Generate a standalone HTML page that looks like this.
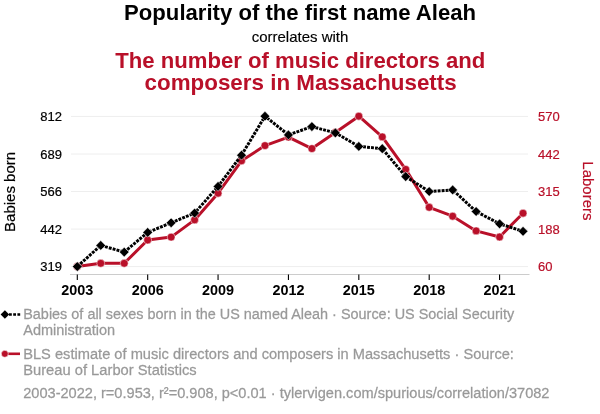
<!DOCTYPE html>
<html><head><meta charset="utf-8"><style>
html,body{margin:0;padding:0;background:#fff;width:600px;height:414px;overflow:hidden}
svg{display:block;will-change:transform;font-family:"Liberation Sans",sans-serif}
</style></head><body>
<svg width="600" height="414" viewBox="0 0 600 414">
<rect width="600" height="414" fill="#fff"/>
<text x="300.1" y="20" text-anchor="middle" font-size="22.13" font-weight="bold" fill="#000">Popularity of the first name Aleah</text>
<text x="300" y="41.9" text-anchor="middle" font-size="15" fill="#000" stroke="#000" stroke-width="0.15">correlates with</text>
<text x="300.3" y="68" text-anchor="middle" font-size="22.13" font-weight="bold" fill="#b91029">The number of music directors and</text>
<text x="300.65" y="89.8" text-anchor="middle" font-size="22.38" font-weight="bold" fill="#b91029">composers in Massachusetts</text>
<line x1="71" x2="528" y1="116.45" y2="116.45" stroke="#eeeeee" stroke-width="1"/>
<line x1="71" x2="528" y1="154.0" y2="154.0" stroke="#eeeeee" stroke-width="1"/>
<line x1="71" x2="528" y1="191.55" y2="191.55" stroke="#eeeeee" stroke-width="1"/>
<line x1="71" x2="528" y1="229.1" y2="229.1" stroke="#eeeeee" stroke-width="1"/>
<line x1="71" x2="528" y1="266.6" y2="266.6" stroke="#eeeeee" stroke-width="1"/>
<line x1="70" x2="529.5" y1="274.5" y2="274.5" stroke="#cccccc" stroke-width="1"/>
<line x1="77.30" x2="77.30" y1="274.5" y2="280" stroke="#000" stroke-width="1.1"/>
<text x="77.30" y="294.75" text-anchor="middle" font-size="14.4" font-weight="bold" fill="#000">2003</text>
<line x1="147.68" x2="147.68" y1="274.5" y2="280" stroke="#000" stroke-width="1.1"/>
<text x="147.68" y="294.75" text-anchor="middle" font-size="14.4" font-weight="bold" fill="#000">2006</text>
<line x1="218.06" x2="218.06" y1="274.5" y2="280" stroke="#000" stroke-width="1.1"/>
<text x="218.06" y="294.75" text-anchor="middle" font-size="14.4" font-weight="bold" fill="#000">2009</text>
<line x1="288.44" x2="288.44" y1="274.5" y2="280" stroke="#000" stroke-width="1.1"/>
<text x="288.44" y="294.75" text-anchor="middle" font-size="14.4" font-weight="bold" fill="#000">2012</text>
<line x1="358.82" x2="358.82" y1="274.5" y2="280" stroke="#000" stroke-width="1.1"/>
<text x="358.82" y="294.75" text-anchor="middle" font-size="14.4" font-weight="bold" fill="#000">2015</text>
<line x1="429.20" x2="429.20" y1="274.5" y2="280" stroke="#000" stroke-width="1.1"/>
<text x="429.20" y="294.75" text-anchor="middle" font-size="14.4" font-weight="bold" fill="#000">2018</text>
<line x1="499.58" x2="499.58" y1="274.5" y2="280" stroke="#000" stroke-width="1.1"/>
<text x="499.58" y="294.75" text-anchor="middle" font-size="14.4" font-weight="bold" fill="#000">2021</text>
<text x="62" y="121.15" text-anchor="end" font-size="13" fill="#000" stroke="#000" stroke-width="0.2">812</text>
<text x="538" y="121.15" text-anchor="start" font-size="13" fill="#b91029" stroke="#b91029" stroke-width="0.2">570</text>
<text x="62" y="158.70" text-anchor="end" font-size="13" fill="#000" stroke="#000" stroke-width="0.2">689</text>
<text x="538" y="158.70" text-anchor="start" font-size="13" fill="#b91029" stroke="#b91029" stroke-width="0.2">442</text>
<text x="62" y="196.25" text-anchor="end" font-size="13" fill="#000" stroke="#000" stroke-width="0.2">566</text>
<text x="538" y="196.25" text-anchor="start" font-size="13" fill="#b91029" stroke="#b91029" stroke-width="0.2">315</text>
<text x="62" y="233.80" text-anchor="end" font-size="13" fill="#000" stroke="#000" stroke-width="0.2">442</text>
<text x="538" y="233.80" text-anchor="start" font-size="13" fill="#b91029" stroke="#b91029" stroke-width="0.2">188</text>
<text x="62" y="271.30" text-anchor="end" font-size="13" fill="#000" stroke="#000" stroke-width="0.2">319</text>
<text x="538" y="271.30" text-anchor="start" font-size="13" fill="#b91029" stroke="#b91029" stroke-width="0.2">60</text>
<text transform="translate(15.2,191.9) rotate(-90)" text-anchor="middle" font-size="15" fill="#000" stroke="#000" stroke-width="0.2">Babies born</text>
<text transform="translate(583.3,190.9) rotate(90)" text-anchor="middle" font-size="15" fill="#b91029" stroke="#b91029" stroke-width="0.2">Laborers</text>
<polyline points="77.30,266.50 100.76,263.30 124.22,263.30 147.68,240.00 171.14,237.10 194.60,219.90 218.06,193.20 241.52,160.80 264.98,145.60 288.44,137.10 311.90,148.60 335.36,132.50 358.82,116.20 382.28,136.90 405.74,169.40 429.20,207.30 452.66,216.20 476.12,230.90 499.58,237.00 523.04,213.20" fill="none" stroke="#b91029" stroke-width="3" stroke-linejoin="round"/>
<circle cx="77.30" cy="266.50" r="3.95" fill="#b91029" stroke="#fff" stroke-width="0.5"/>
<circle cx="100.76" cy="263.30" r="3.95" fill="#b91029" stroke="#fff" stroke-width="0.5"/>
<circle cx="124.22" cy="263.30" r="3.95" fill="#b91029" stroke="#fff" stroke-width="0.5"/>
<circle cx="147.68" cy="240.00" r="3.95" fill="#b91029" stroke="#fff" stroke-width="0.5"/>
<circle cx="171.14" cy="237.10" r="3.95" fill="#b91029" stroke="#fff" stroke-width="0.5"/>
<circle cx="194.60" cy="219.90" r="3.95" fill="#b91029" stroke="#fff" stroke-width="0.5"/>
<circle cx="218.06" cy="193.20" r="3.95" fill="#b91029" stroke="#fff" stroke-width="0.5"/>
<circle cx="241.52" cy="160.80" r="3.95" fill="#b91029" stroke="#fff" stroke-width="0.5"/>
<circle cx="264.98" cy="145.60" r="3.95" fill="#b91029" stroke="#fff" stroke-width="0.5"/>
<circle cx="288.44" cy="137.10" r="3.95" fill="#b91029" stroke="#fff" stroke-width="0.5"/>
<circle cx="311.90" cy="148.60" r="3.95" fill="#b91029" stroke="#fff" stroke-width="0.5"/>
<circle cx="335.36" cy="132.50" r="3.95" fill="#b91029" stroke="#fff" stroke-width="0.5"/>
<circle cx="358.82" cy="116.20" r="3.95" fill="#b91029" stroke="#fff" stroke-width="0.5"/>
<circle cx="382.28" cy="136.90" r="3.95" fill="#b91029" stroke="#fff" stroke-width="0.5"/>
<circle cx="405.74" cy="169.40" r="3.95" fill="#b91029" stroke="#fff" stroke-width="0.5"/>
<circle cx="429.20" cy="207.30" r="3.95" fill="#b91029" stroke="#fff" stroke-width="0.5"/>
<circle cx="452.66" cy="216.20" r="3.95" fill="#b91029" stroke="#fff" stroke-width="0.5"/>
<circle cx="476.12" cy="230.90" r="3.95" fill="#b91029" stroke="#fff" stroke-width="0.5"/>
<circle cx="499.58" cy="237.00" r="3.95" fill="#b91029" stroke="#fff" stroke-width="0.5"/>
<circle cx="523.04" cy="213.20" r="3.95" fill="#b91029" stroke="#fff" stroke-width="0.5"/>
<polyline points="77.30,266.60 100.76,245.40 124.22,252.10 147.68,232.40 171.14,222.80 194.60,213.10 218.06,186.40 241.52,155.20 264.98,116.20 288.44,134.90 311.90,126.60 335.36,132.90 358.82,146.40 382.28,148.70 405.74,176.60 429.20,191.50 452.66,189.90 476.12,211.50 499.58,223.80 523.04,231.30" fill="none" stroke="#000" stroke-width="3" stroke-dasharray="2.9,1.1"/>
<path d="M72.45,266.60 L77.30,261.75 L82.15,266.60 L77.30,271.45 Z" fill="#000" stroke="#fff" stroke-width="0.5"/>
<path d="M95.91,245.40 L100.76,240.55 L105.61,245.40 L100.76,250.25 Z" fill="#000" stroke="#fff" stroke-width="0.5"/>
<path d="M119.37,252.10 L124.22,247.25 L129.07,252.10 L124.22,256.95 Z" fill="#000" stroke="#fff" stroke-width="0.5"/>
<path d="M142.83,232.40 L147.68,227.55 L152.53,232.40 L147.68,237.25 Z" fill="#000" stroke="#fff" stroke-width="0.5"/>
<path d="M166.29,222.80 L171.14,217.95 L175.99,222.80 L171.14,227.65 Z" fill="#000" stroke="#fff" stroke-width="0.5"/>
<path d="M189.75,213.10 L194.60,208.25 L199.45,213.10 L194.60,217.95 Z" fill="#000" stroke="#fff" stroke-width="0.5"/>
<path d="M213.21,186.40 L218.06,181.55 L222.91,186.40 L218.06,191.25 Z" fill="#000" stroke="#fff" stroke-width="0.5"/>
<path d="M236.67,155.20 L241.52,150.35 L246.37,155.20 L241.52,160.05 Z" fill="#000" stroke="#fff" stroke-width="0.5"/>
<path d="M260.13,116.20 L264.98,111.35 L269.83,116.20 L264.98,121.05 Z" fill="#000" stroke="#fff" stroke-width="0.5"/>
<path d="M283.59,134.90 L288.44,130.05 L293.29,134.90 L288.44,139.75 Z" fill="#000" stroke="#fff" stroke-width="0.5"/>
<path d="M307.05,126.60 L311.90,121.75 L316.75,126.60 L311.90,131.45 Z" fill="#000" stroke="#fff" stroke-width="0.5"/>
<path d="M330.51,132.90 L335.36,128.05 L340.21,132.90 L335.36,137.75 Z" fill="#000" stroke="#fff" stroke-width="0.5"/>
<path d="M353.97,146.40 L358.82,141.55 L363.67,146.40 L358.82,151.25 Z" fill="#000" stroke="#fff" stroke-width="0.5"/>
<path d="M377.43,148.70 L382.28,143.85 L387.13,148.70 L382.28,153.55 Z" fill="#000" stroke="#fff" stroke-width="0.5"/>
<path d="M400.89,176.60 L405.74,171.75 L410.59,176.60 L405.74,181.45 Z" fill="#000" stroke="#fff" stroke-width="0.5"/>
<path d="M424.35,191.50 L429.20,186.65 L434.05,191.50 L429.20,196.35 Z" fill="#000" stroke="#fff" stroke-width="0.5"/>
<path d="M447.81,189.90 L452.66,185.05 L457.51,189.90 L452.66,194.75 Z" fill="#000" stroke="#fff" stroke-width="0.5"/>
<path d="M471.27,211.50 L476.12,206.65 L480.97,211.50 L476.12,216.35 Z" fill="#000" stroke="#fff" stroke-width="0.5"/>
<path d="M494.73,223.80 L499.58,218.95 L504.43,223.80 L499.58,228.65 Z" fill="#000" stroke="#fff" stroke-width="0.5"/>
<path d="M518.19,231.30 L523.04,226.45 L527.89,231.30 L523.04,236.15 Z" fill="#000" stroke="#fff" stroke-width="0.5"/>
<line x1="9" x2="20.2" y1="314.5" y2="314.5" stroke="#000" stroke-width="2.7" stroke-dasharray="2.8,1.4"/>
<path d="M0.6,314.5 L4.9,310.2 L9.2,314.5 L4.9,318.8 Z" fill="#000"/>
<line x1="5" x2="20" y1="353.8" y2="353.8" stroke="#b91029" stroke-width="2.6"/>
<circle cx="4.8" cy="353.8" r="3.5" fill="#b91029" stroke="#fff" stroke-width="0.6"/>
<text transform="translate(23.2,318.7) scale(1,1.03)" x="0" y="0" font-size="15.0" fill="#999999" stroke="#999999" stroke-width="0.25" textLength="490.97" lengthAdjust="spacingAndGlyphs">Babies of all sexes born in the US named Aleah · Source: US Social Security</text>
<text transform="translate(23.2,334.6) scale(1,1.03)" x="0" y="0" font-size="15.0" fill="#999999" stroke="#999999" stroke-width="0.25" textLength="92.00" lengthAdjust="spacingAndGlyphs">Administration</text>
<text transform="translate(23.2,358.7) scale(1,1.03)" x="0" y="0" font-size="15.0" fill="#999999" stroke="#999999" stroke-width="0.25" textLength="490.72" lengthAdjust="spacingAndGlyphs">BLS estimate of music directors and composers in Massachusetts · Source:</text>
<text transform="translate(23.2,374.6) scale(1,1.03)" x="0" y="0" font-size="15.0" fill="#999999" stroke="#999999" stroke-width="0.25" textLength="173.47" lengthAdjust="spacingAndGlyphs">Bureau of Larbor Statistics</text>
<text transform="translate(23.2,397.6) scale(1,1.03)" x="0" y="0" font-size="15.0" fill="#999999" stroke="#999999" stroke-width="0.25" textLength="526.29" lengthAdjust="spacingAndGlyphs">2003-2022, r=0.953, r²=0.908, p&lt;0.01 · tylervigen.com/spurious/correlation/37082</text>
</svg>
</body></html>
